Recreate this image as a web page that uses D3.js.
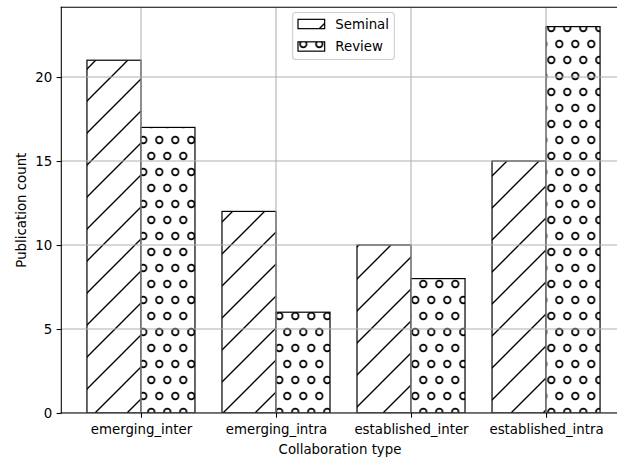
<!DOCTYPE html>
<html>
<head>
<meta charset="utf-8">
<script src="https://cdn.jsdelivr.net/npm/d3@7"></script>
<style>
  html, body { margin: 0; padding: 0; background: #fff; }
  svg { display: block; font-family: "DejaVu Sans", sans-serif; }
</style>
</head>
<body>
<svg id="chart" width="617" height="461"></svg>
<script>
// ---- data ----
const categories = ["emerging_inter", "emerging_intra", "established_inter", "established_intra"];
const seminal = [21, 12, 10, 15];
const review = [17, 6, 8, 23];
const seriesNames = ["Seminal", "Review"];
const yTicks = [0, 5, 10, 15, 20];

// ---- layout ----
const W = 617, H = 461;
const svg = d3.select("#chart");
const fontSize = 13.33;
const barW = 0.4;

const x = d3.scaleLinear().domain([-0.59, 3.59]).range([61.3, 625.7]);
const y = d3.scaleLinear().domain([0, 24.15]).range([413, 7.3]);

// ---- hatch patterns (global, userSpaceOnUse) ----
const defs = svg.append("defs");
const pSlash = defs.append("pattern")
  .attr("id", "hatchSlash").attr("patternUnits", "userSpaceOnUse")
  .attr("x", 28).attr("y", 0).attr("width", 32).attr("height", 32);
pSlash.append("rect").attr("width", 32).attr("height", 32).attr("fill", "#fff");
[[-4, 36, 36, -4], [-4, 4, 4, -4], [28, 36, 36, 28]].forEach(l => {
  pSlash.append("line").attr("x1", l[0]).attr("y1", l[1]).attr("x2", l[2]).attr("y2", l[3])
    .attr("stroke", "#000").attr("stroke-width", 1.33);
});
const pDot = defs.append("pattern")
  .attr("id", "hatchDot").attr("patternUnits", "userSpaceOnUse")
  .attr("x", 15.3).attr("y", 12).attr("width", 16).attr("height", 32);
pDot.append("rect").attr("width", 16).attr("height", 32).attr("fill", "#fff");
[[0, 0], [16, 0], [0, 32], [16, 32], [8, 16]].forEach(c => {
  pDot.append("circle").attr("cx", c[0]).attr("cy", c[1]).attr("r", 3.3)
    .attr("fill", "none").attr("stroke", "#000").attr("stroke-width", 1.7);
});
const fills = ["url(#hatchSlash)", "url(#hatchDot)"];

// ---- clip to axes ----
defs.append("clipPath").attr("id", "axclip").append("rect")
  .attr("x", x.range()[0]).attr("y", y.range()[1])
  .attr("width", x.range()[1] - x.range()[0]).attr("height", y.range()[0] - y.range()[1]);

const plot = svg.append("g").attr("clip-path", "url(#axclip)");

// ---- bars ----
const series = [seminal, review];
series.forEach((vals, si) => {
  const off = si === 0 ? -barW / 2 : barW / 2;
  plot.selectAll(null).data(vals).enter().append("rect")
    .attr("x", (d, i) => x(i + off - barW / 2))
    .attr("y", d => y(d))
    .attr("width", x(barW) - x(0))
    .attr("height", d => y(0) - y(d))
    .attr("fill", fills[si])
    .attr("stroke", "#000")
    .attr("stroke-width", 1.2);
});

// ---- grid (above bars) ----
const grid = svg.append("g").attr("clip-path", "url(#axclip)");
grid.selectAll(null).data(yTicks).enter().append("line")
  .attr("x1", x.range()[0]).attr("x2", x.range()[1])
  .attr("y1", d => y(d)).attr("y2", d => y(d))
  .attr("stroke", "#b0b0b0").attr("stroke-width", 1.07);
grid.selectAll(null).data(categories).enter().append("line")
  .attr("x1", (d, i) => x(i)).attr("x2", (d, i) => x(i))
  .attr("y1", y.range()[0]).attr("y2", y.range()[1])
  .attr("stroke", "#b0b0b0").attr("stroke-width", 1.07);

// ---- axes ----
const xAxis = d3.axisBottom(x).tickValues(d3.range(categories.length))
  .tickFormat(i => categories[i]).tickSize(4.67).tickPadding(6.5);
const gx = svg.append("g").attr("transform", `translate(0,${y(0)})`).call(xAxis);
const yAxis = d3.axisLeft(y).tickValues(yTicks).tickSize(4.67).tickPadding(4.5);
const gy = svg.append("g").attr("transform", `translate(${x.range()[0]},0)`).call(yAxis);
[gx, gy].forEach(g => {
  g.select(".domain").remove();
  g.selectAll(".tick line").attr("stroke", "#000").attr("stroke-width", 1.07);
  g.selectAll(".tick text").attr("fill", "#000").style("font-size", fontSize + "px")
    .style("font-family", "DejaVu Sans, sans-serif");
});

// spines
const spine = svg.append("g");
spine.append("line").attr("x1", x.range()[0]).attr("x2", x.range()[0])
  .attr("y1", y.range()[0]).attr("y2", y.range()[1]);
spine.append("line").attr("x1", x.range()[0]).attr("x2", x.range()[1])
  .attr("y1", y.range()[0]).attr("y2", y.range()[0]);
spine.append("line").attr("x1", x.range()[0]).attr("x2", x.range()[1])
  .attr("y1", y.range()[1]).attr("y2", y.range()[1]);
spine.append("line").attr("x1", x.range()[1]).attr("x2", x.range()[1])
  .attr("y1", y.range()[0]).attr("y2", y.range()[1]);
spine.selectAll("line").attr("stroke", "#000").attr("stroke-width", 1.07).attr("stroke-linecap", "square");

// axis labels
svg.append("text").attr("x", 340).attr("y", 454)
  .attr("text-anchor", "middle").style("font-size", fontSize + "px").text("Collaboration type");
svg.append("text").attr("transform", `translate(25.5,${(y.range()[0] + y.range()[1]) / 2}) rotate(-90)`)
  .attr("text-anchor", "middle").style("font-size", fontSize + "px").text("Publication count");

// ---- legend ----
const leg = svg.append("g");
const legBox = leg.append("rect");
const rowsY = [24, 46.5];
const texts = [];
seriesNames.forEach((name, i) => {
  texts.push(leg.append("text").attr("y", rowsY[i] + 4.8).style("font-size", fontSize + "px").text(name));
});
const tw = d3.max(texts, t => t.node().getComputedTextLength());
const boxW = 5.33 + 26.67 + 10.67 + tw + 5.33;
const cx = (x.range()[0] + x.range()[1]) / 2;
const bx = cx - boxW / 2;
legBox.attr("x", bx).attr("y", 12.5).attr("width", boxW).attr("height", 47)
  .attr("rx", 3).attr("fill", "#fff").attr("fill-opacity", 0.8)
  .attr("stroke", "#cccccc").attr("stroke-width", 1.07);
seriesNames.forEach((name, i) => {
  leg.append("rect").attr("x", bx + 5.33).attr("y", rowsY[i] - 4.67)
    .attr("width", 26.67).attr("height", 9.33)
    .attr("fill", fills[i]).attr("stroke", "#000").attr("stroke-width", 1.2);
  texts[i].attr("x", bx + 5.33 + 26.67 + 10.67);
});
</script>
</body>
</html>
